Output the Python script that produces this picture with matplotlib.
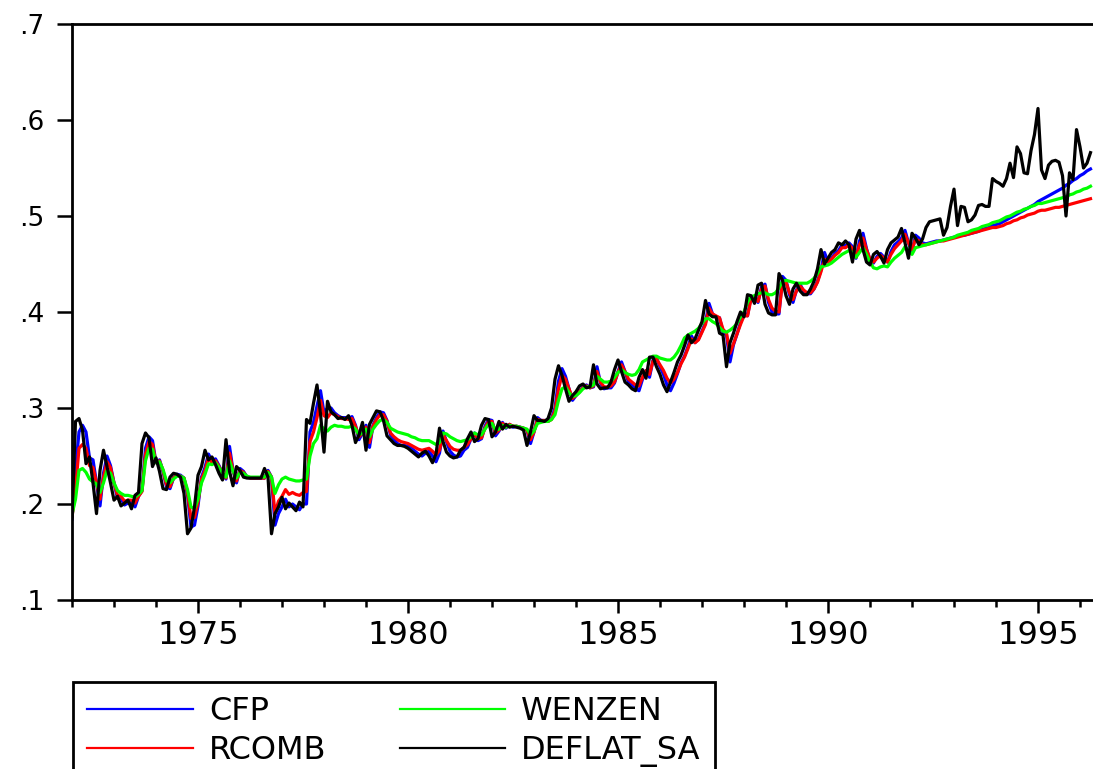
import numpy as np
import pandas as pd
import matplotlib
matplotlib.use("Agg")
import matplotlib.pyplot as plt
from matplotlib.ticker import MultipleLocator, FuncFormatter

# Monatsreihen 1972:01 - 1996:04
deflat_sa = [
    .187, .286, .289, .277, .242, .249, .222, .190, .235, .256,
    .239, .222, .204, .208, .198, .201, .204, .195, .209, .212,
    .263, .274, .269, .239, .248, .234, .216, .215, .228, .232,
    .231, .228, .211, .169, .175, .197, .230, .239, .256, .246,
    .249, .241, .232, .225, .267, .234, .219, .239, .235, .228,
    .227, .227, .227, .227, .227, .237, .228, .169, .190, .197,
    .207, .195, .201, .197, .193, .202, .197, .288, .284, .305,
    .324, .294, .254, .307, .296, .293, .289, .290, .288, .292,
    .282, .264, .272, .285, .256, .283, .290, .297, .296, .287,
    .271, .267, .263, .261, .261, .260, .258, .255, .252, .249,
    .253, .255, .250, .243, .252, .279, .265, .254, .250, .248,
    .249, .256, .259, .268, .275, .265, .268, .282, .289, .288,
    .270, .275, .286, .278, .283, .280, .281, .280, .279, .277,
    .261, .275, .292, .287, .287, .286, .289, .300, .330, .344,
    .334, .320, .307, .313, .317, .323, .325, .321, .322, .345,
    .325, .320, .321, .321, .327, .340, .350, .338, .327, .324,
    .320, .318, .332, .340, .331, .353, .353, .343, .335, .324,
    .317, .327, .337, .348, .355, .365, .376, .368, .372, .381,
    .390, .412, .398, .395, .395, .378, .376, .343, .368, .378,
    .390, .400, .395, .418, .417, .409, .428, .430, .408, .399,
    .397, .397, .440, .433, .417, .408, .424, .430, .422, .418,
    .418, .424, .432, .445, .465, .450, .456, .462, .465, .472,
    .470, .474, .470, .452, .476, .485, .465, .452, .449, .460,
    .463, .458, .451, .465, .472, .475, .478, .487, .472, .456,
    .482, .477, .470, .476, .488, .494, .495, .496, .497, .480,
    .488, .510, .528, .490, .510, .509, .494, .496, .501, .511,
    .512, .510, .510, .539, .536, .534, .531, .539, .555, .540,
    .572, .565, .545, .544, .568, .585, .612, .548, .539, .553,
    .557, .558, .556, .542, .500, .545, .538, .590, .572, .550,
    .555, .566,
]

cfp = [
    .184, .235, .275, .282, .275, .248, .246, .222, .198, .232,
    .250, .240, .222, .206, .206, .199, .201, .202, .197, .208,
    .214, .258, .270, .266, .243, .246, .234, .218, .216, .227,
    .231, .230, .227, .210, .176, .178, .198, .228, .238, .252,
    .245, .247, .240, .232, .226, .260, .235, .222, .237, .234,
    .228, .227, .227, .227, .227, .227, .235, .228, .178, .190,
    .197, .205, .197, .200, .197, .194, .200, .200, .275, .285,
    .302, .318, .295, .300, .300, .295, .292, .290, .290, .289,
    .291, .282, .267, .274, .282, .259, .282, .290, .296, .295,
    .287, .272, .267, .263, .261, .261, .260, .258, .255, .252,
    .250, .253, .255, .250, .244, .253, .276, .265, .255, .251,
    .249, .250, .256, .259, .268, .274, .266, .268, .281, .288,
    .287, .271, .276, .285, .279, .283, .280, .281, .280, .279,
    .277, .263, .275, .290, .287, .287, .286, .289, .300, .328,
    .341, .333, .320, .308, .313, .317, .322, .324, .321, .322,
    .343, .326, .320, .321, .321, .326, .338, .348, .338, .327,
    .324, .320, .318, .330, .339, .332, .350, .352, .343, .335,
    .324, .318, .326, .336, .347, .354, .364, .375, .368, .372,
    .380, .389, .409, .398, .395, .394, .379, .376, .348, .366,
    .377, .389, .399, .396, .416, .416, .410, .426, .429, .410,
    .400, .398, .398, .437, .433, .418, .410, .423, .429, .422,
    .419, .419, .424, .432, .444, .462, .452, .456, .461, .464,
    .470, .469, .472, .468, .456, .474, .482, .466, .454, .451,
    .458, .461, .457, .452, .463, .470, .473, .477, .485, .472,
    .462, .480, .477, .472, .471, .472, .473, .474, .474, .475,
    .476, .477, .478, .479, .480, .480, .481, .482, .483, .484,
    .486, .487, .488, .490, .491, .492, .494, .496, .498, .500,
    .502, .504, .506, .508, .510, .512, .515, .517, .519, .521,
    .523, .525, .527, .529, .532, .534, .537, .539, .542, .544,
    .547, .549,
]

rcomb = [
    .186, .215, .258, .262, .258, .240, .238, .222, .205, .228,
    .244, .238, .222, .209, .208, .203, .204, .204, .201, .208,
    .213, .252, .265, .262, .243, .245, .235, .220, .218, .227,
    .230, .229, .227, .212, .185, .186, .202, .226, .235, .248,
    .243, .245, .239, .232, .227, .253, .235, .224, .235, .233,
    .228, .227, .227, .227, .227, .227, .234, .228, .190, .203,
    .208, .215, .210, .212, .210, .209, .212, .213, .265, .275,
    .290, .308, .292, .290, .295, .293, .291, .289, .289, .288,
    .289, .281, .270, .274, .280, .264, .281, .288, .293, .293,
    .286, .274, .270, .267, .265, .264, .263, .261, .259, .257,
    .256, .257, .258, .255, .251, .256, .272, .266, .260, .257,
    .256, .256, .259, .262, .268, .273, .268, .269, .279, .286,
    .286, .274, .277, .284, .280, .283, .281, .281, .280, .279,
    .277, .267, .275, .288, .287, .287, .286, .288, .297, .320,
    .334, .330, .320, .310, .313, .317, .321, .323, .321, .323,
    .338, .327, .322, .322, .323, .327, .337, .345, .338, .330,
    .327, .324, .323, .332, .339, .335, .349, .351, .345, .339,
    .331, .326, .330, .337, .346, .353, .362, .372, .368, .371,
    .379, .387, .404, .398, .396, .394, .382, .378, .357, .367,
    .377, .387, .396, .396, .413, .415, .411, .424, .427, .413,
    .404, .401, .400, .431, .431, .420, .413, .422, .427, .423,
    .420, .420, .424, .431, .442, .455, .452, .455, .459, .462,
    .467, .467, .470, .466, .457, .470, .477, .465, .455, .452,
    .456, .459, .456, .452, .460, .466, .470, .474, .481, .472,
    .465, .476, .474, .470, .470, .471, .472, .473, .474, .474,
    .475, .476, .477, .478, .479, .480, .481, .482, .483, .484,
    .485, .486, .487, .488, .488, .489, .490, .492, .493, .495,
    .496, .498, .499, .501, .502, .503, .505, .506, .506, .507,
    .508, .509, .509, .510, .511, .512, .513, .514, .515, .516,
    .517, .518,
]

wenzen = [
    .189, .205, .235, .237, .233, .226, .223, .221, .212, .222,
    .235, .232, .222, .214, .211, .209, .209, .208, .207, .210,
    .214, .245, .258, .257, .243, .244, .236, .224, .222, .226,
    .229, .229, .227, .215, .197, .195, .205, .222, .231, .242,
    .241, .243, .238, .232, .228, .245, .234, .227, .233, .232,
    .229, .228, .228, .228, .228, .228, .233, .228, .211, .220,
    .226, .228, .226, .225, .224, .224, .225, .226, .250, .263,
    .268, .282, .278, .276, .280, .282, .281, .281, .280, .280,
    .281, .278, .272, .274, .278, .270, .278, .283, .287, .288,
    .285, .279, .277, .275, .274, .273, .272, .270, .269, .267,
    .266, .266, .266, .264, .262, .264, .274, .273, .270, .268,
    .266, .265, .266, .267, .270, .274, .272, .272, .278, .283,
    .284, .277, .278, .282, .280, .282, .281, .281, .280, .279,
    .278, .272, .276, .284, .285, .286, .286, .288, .293, .308,
    .320, .322, .316, .312, .313, .316, .320, .322, .322, .324,
    .333, .330, .327, .327, .328, .332, .337, .340, .337, .335,
    .334, .335, .340, .348, .350, .352, .354, .354, .352, .351,
    .350, .350, .353, .358, .365, .373, .376, .378, .380, .383,
    .388, .393, .393, .390, .388, .384, .380, .379, .381, .384,
    .388, .395, .400, .410, .416, .417, .419, .420, .420, .418,
    .418, .420, .425, .432, .433, .432, .431, .430, .430, .430,
    .430, .432, .435, .440, .447, .448, .449, .451, .454, .457,
    .460, .462, .464, .462, .457, .462, .467, .460, .452, .446,
    .445, .447, .448, .447, .452, .456, .459, .462, .468, .464,
    .460, .467, .468, .469, .470, .471, .472, .473, .474, .475,
    .476, .477, .478, .480, .481, .482, .483, .485, .486, .487,
    .489, .490, .491, .493, .494, .495, .497, .499, .500, .502,
    .504, .505, .507, .508, .510, .511, .513, .513, .514, .515,
    .516, .517, .518, .519, .520, .522, .523, .525, .526, .528,
    .529, .531,
]

y_ticks = [.1, .2, .3, .4, .5, .6, .7]

# Zeitachse (Dezimaljahre)
datum = pd.date_range("1972-01-01", periods=len(deflat_sa), freq="MS")
jahr = datum.year + (datum.month - 1) / 12.0

W, H = 1093, 769
fig = plt.figure(figsize=(W / 100, H / 100), dpi=100)
plt.rcParams["font.family"] = ["DejaVu Sans"]

# Achse ragt rechts ueber den Bildrand hinaus (wie im Original)
ax = fig.add_axes([72 / W, 1 - 600 / H, 1029 / W, 576 / H])

ax.plot(jahr, cfp, color="#0000ff", linewidth=2.3, label="CFP")
ax.plot(jahr, rcomb, color="#ff0000", linewidth=2.3, label="RCOMB")
ax.plot(jahr, wenzen, color="#00ff00", linewidth=2.3, label="WENZEN")
ax.plot(jahr, deflat_sa, color="black", linewidth=2.3, label="DEFLAT_SA")

ax.set_xlim(1972, 1996.5)
ax.set_ylim(0.1, 0.7)
ax.set_yticks(y_ticks)
ax.yaxis.set_major_formatter(FuncFormatter(lambda v, p: ("%.1f" % v).lstrip("0")))
ax.xaxis.set_major_locator(MultipleLocator(5))
ax.xaxis.set_minor_locator(MultipleLocator(1))

for side in ["left", "top", "bottom"]:
    ax.spines[side].set_linewidth(2.0)
ax.spines["right"].set_visible(False)

ax.tick_params(axis="x", which="major", direction="out", length=9.5, width=1.8,
               labelsize=23, pad=5)
ax.tick_params(axis="x", which="minor", direction="out", length=5, width=1.8)
ax.tick_params(axis="y", which="major", direction="out", length=11, width=1.8,
               labelsize=19, pad=9)

handles, labels = ax.get_legend_handles_labels()
leg = fig.legend(handles, labels, ncol=2, loc="upper left",
                 bbox_to_anchor=(73 / W, 1 - 682 / H), bbox_transform=fig.transFigure,
                 fontsize=23, frameon=True, fancybox=False, edgecolor="black",
                 framealpha=1, handlelength=3.3, handletextpad=0.5,
                 columnspacing=2.3, labelspacing=0.25, borderpad=0.45,
                 borderaxespad=0)
leg.get_frame().set_linewidth(2.0)
for line in leg.get_lines():
    line.set_linewidth(1.6)

fig.savefig("out.png", dpi=100)
